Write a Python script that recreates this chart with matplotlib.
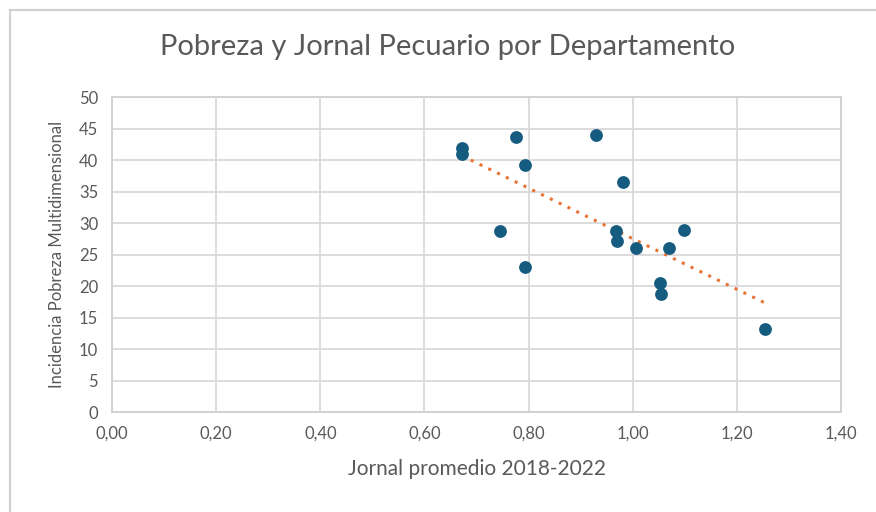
import matplotlib.pyplot as plt
import numpy as np
from matplotlib.lines import Line2D

# Jornal promedio (x) e incidencia de pobreza multidimensional (y) por departamento
jornal = [0.672, 0.672, 0.776, 0.793, 0.745, 0.793, 0.929, 0.981,
          0.967, 0.970, 1.006, 1.069, 1.098, 1.052, 1.055, 1.254]
pobreza = [41.9, 41.0, 43.6, 39.2, 28.7, 23.0, 44.0, 36.5,
           28.7, 27.1, 26.1, 26.0, 28.9, 20.4, 18.8, 13.1]

x_ticks = [0.0, 0.2, 0.4, 0.6, 0.8, 1.0, 1.2, 1.4]
y_ticks = [0, 5, 10, 15, 20, 25, 30, 35, 40, 45, 50]

plt.rcParams['font.family'] = ['Lato', 'DejaVu Sans']

fig = plt.figure(figsize=(8.76, 5.12), dpi=100)
fig.patch.set_facecolor('white')
ax = fig.add_axes([0.1279, 0.1953, 0.8322, 0.6152])

# chart border (Excel style)
fig.add_artist(Line2D([10/876, 1], [1-10/512, 1-10/512], transform=fig.transFigure,
                      color='#d0d0d0', lw=1.5))
fig.add_artist(Line2D([10/876, 10/876], [0, 1-10/512], transform=fig.transFigure,
                      color='#d0d0d0', lw=1.5))

# trendline (linear fit)
coef = np.polyfit(jornal, pobreza, 1)
xs = np.array([min(jornal), max(jornal)])
ax.plot(xs, np.polyval(coef, xs), linestyle=(0, (1, 2.2)), color='#E97132', lw=2.2,
        zorder=2)

ax.scatter(jornal, pobreza, s=85, color='#165C80', zorder=3, linewidths=0)

ax.set_xlim(0, 1.4)
ax.set_ylim(0, 50)
ax.set_xticks(x_ticks)
ax.set_yticks(y_ticks)
ax.set_xticklabels([f'{v:.2f}'.replace('.', ',') for v in x_ticks])
ax.set_yticklabels([str(v) for v in y_ticks])
ax.grid(True, color='#d9d9d9', lw=1.3)
ax.set_axisbelow(True)
for s in ax.spines.values():
    s.set_color('#d0d0d0')
    s.set_linewidth(1.3)
ax.tick_params(length=0, labelsize=12, colors='#595959', pad=10)

# title centred on the whole chart area, as in Excel
fig.text(448/876, 1-47/512, 'Pobreza y Jornal Pecuario por Departamento',
         fontsize=21, color='#595959', ha='center', va='center')
ax.set_xlabel('Jornal promedio 2018-2022', fontsize=15, color='#595959',
              labelpad=12)
ax.set_ylabel('Incidencia Pobreza Multidimensional', fontsize=12, color='#595959',
              labelpad=10)

plt.savefig('out.png', dpi=100, facecolor='white')
